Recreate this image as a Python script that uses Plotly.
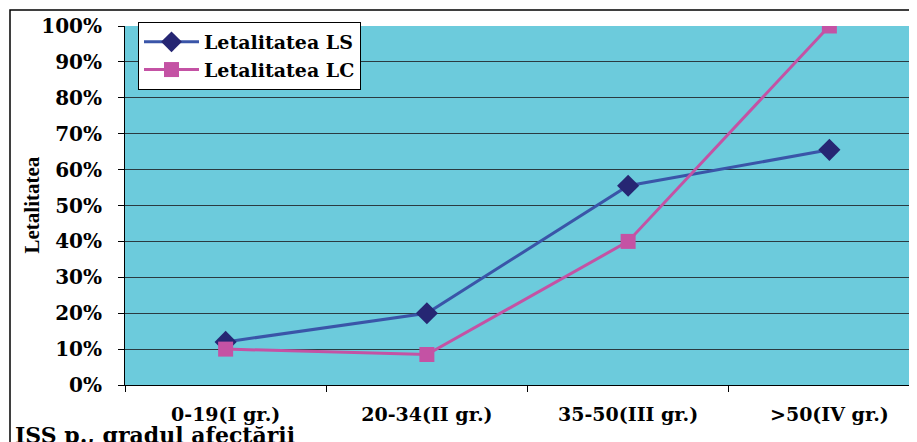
import plotly.graph_objects as go

categories = ["0-19(I gr.)", "20-34(II gr.)", "35-50(III gr.)", ">50(IV gr.)"]
ls_values = [0.12, 0.20, 0.555, 0.655]
lc_values = [0.10, 0.085, 0.40, 1.00]
y_ticks = [0, 0.1, 0.2, 0.3, 0.4, 0.5, 0.6, 0.7, 0.8, 0.9, 1.0]
y_tick_labels = ["0%", "10%", "20%", "30%", "40%", "50%", "60%", "70%", "80%", "90%", "100%"]

OFF = 8  # page body margin
W, H = 917 - OFF, 442 - OFF
L, R, T, B = 125 - OFF, 0, 26 - OFF, 57
pw = W - L - R
ph = H - T - B

def px_x(sx):
    return (sx - OFF - L) / pw

def px_y(sy):
    return 1 - (sy - OFF - T) / ph

serif_wide = "DejaVu Serif, serif"
serif = "Liberation Serif, Times New Roman, serif"

fig = go.Figure()
fig.add_trace(go.Scatter(
    x=categories, y=ls_values, name="Letalitatea LS", mode="lines+markers",
    line=dict(color="#3a55a8", width=3),
    marker=dict(symbol="diamond", size=17, color="#262673"),
))
fig.add_trace(go.Scatter(
    x=categories, y=lc_values, name="Letalitatea LC", mode="lines+markers",
    line=dict(color="#c452a4", width=3),
    marker=dict(symbol="square", size=15, color="#c452a4"),
))

fig.update_layout(
    width=W, height=H,
    margin=dict(l=L, r=R, t=T, b=B, autoexpand=False),
    paper_bgcolor="white",
    plot_bgcolor="#6ccbdc",
    font=dict(family=serif_wide, size=16, color="black"),
    showlegend=True,
    legend=dict(
        x=px_x(138), y=px_y(22), xanchor="left", yanchor="top",
        bgcolor="white", bordercolor="black", borderwidth=1,
        font=dict(family=serif_wide, size=19, color="black", weight="bold"),
        itemwidth=55,
        tracegroupgap=0,
    ),
    xaxis=dict(
        type="category",
        range=[-0.5, -0.5 + 4 * pw / 805],
        tickson="boundaries",
        ticks="outside", ticklen=6, tickcolor="black",
        showline=True, linecolor="black", linewidth=1,
        showgrid=False, automargin=False,
        tickfont=dict(family=serif_wide, size=19, color="black", weight="bold"),
        ticklabelstandoff=12,
    ),
    yaxis=dict(
        range=[0, 1.0],
        tickvals=y_ticks, ticktext=y_tick_labels,
        ticks="outside", ticklen=6, tickcolor="black",
        showline=True, linecolor="black", linewidth=1,
        showgrid=True, gridcolor="#2a3a40", gridwidth=1,
        tickfont=dict(family=serif_wide, size=20, color="black", weight="bold"),
        ticklabelstandoff=12,
        zeroline=False, automargin=False,
    ),
)

# outer chart border (top and left edges visible)
fig.add_shape(
    type="rect", xref="paper", yref="paper",
    x0=px_x(10), x1=1 + 20 / pw,
    y0=-(B + 20) / ph, y1=px_y(10),
    line=dict(color="black", width=1.5), fillcolor="rgba(0,0,0,0)", layer="below",
)

# y axis title
fig.add_annotation(
    text="Letalitatea", xref="paper", yref="paper",
    x=px_x(31), y=0.5, xanchor="center", yanchor="middle",
    textangle=-90, showarrow=False,
    font=dict(family=serif, size=21, color="black", weight="bold"),
)

# x axis title (bottom-left)
fig.add_annotation(
    text="ISS p., gradul afectării", xref="paper", yref="paper",
    x=px_x(13), y=px_y(420),
    xanchor="left", yanchor="top", showarrow=False,
    font=dict(family=serif_wide, size=22, color="black", weight="bold"),
)

fig.write_html("out.html")
